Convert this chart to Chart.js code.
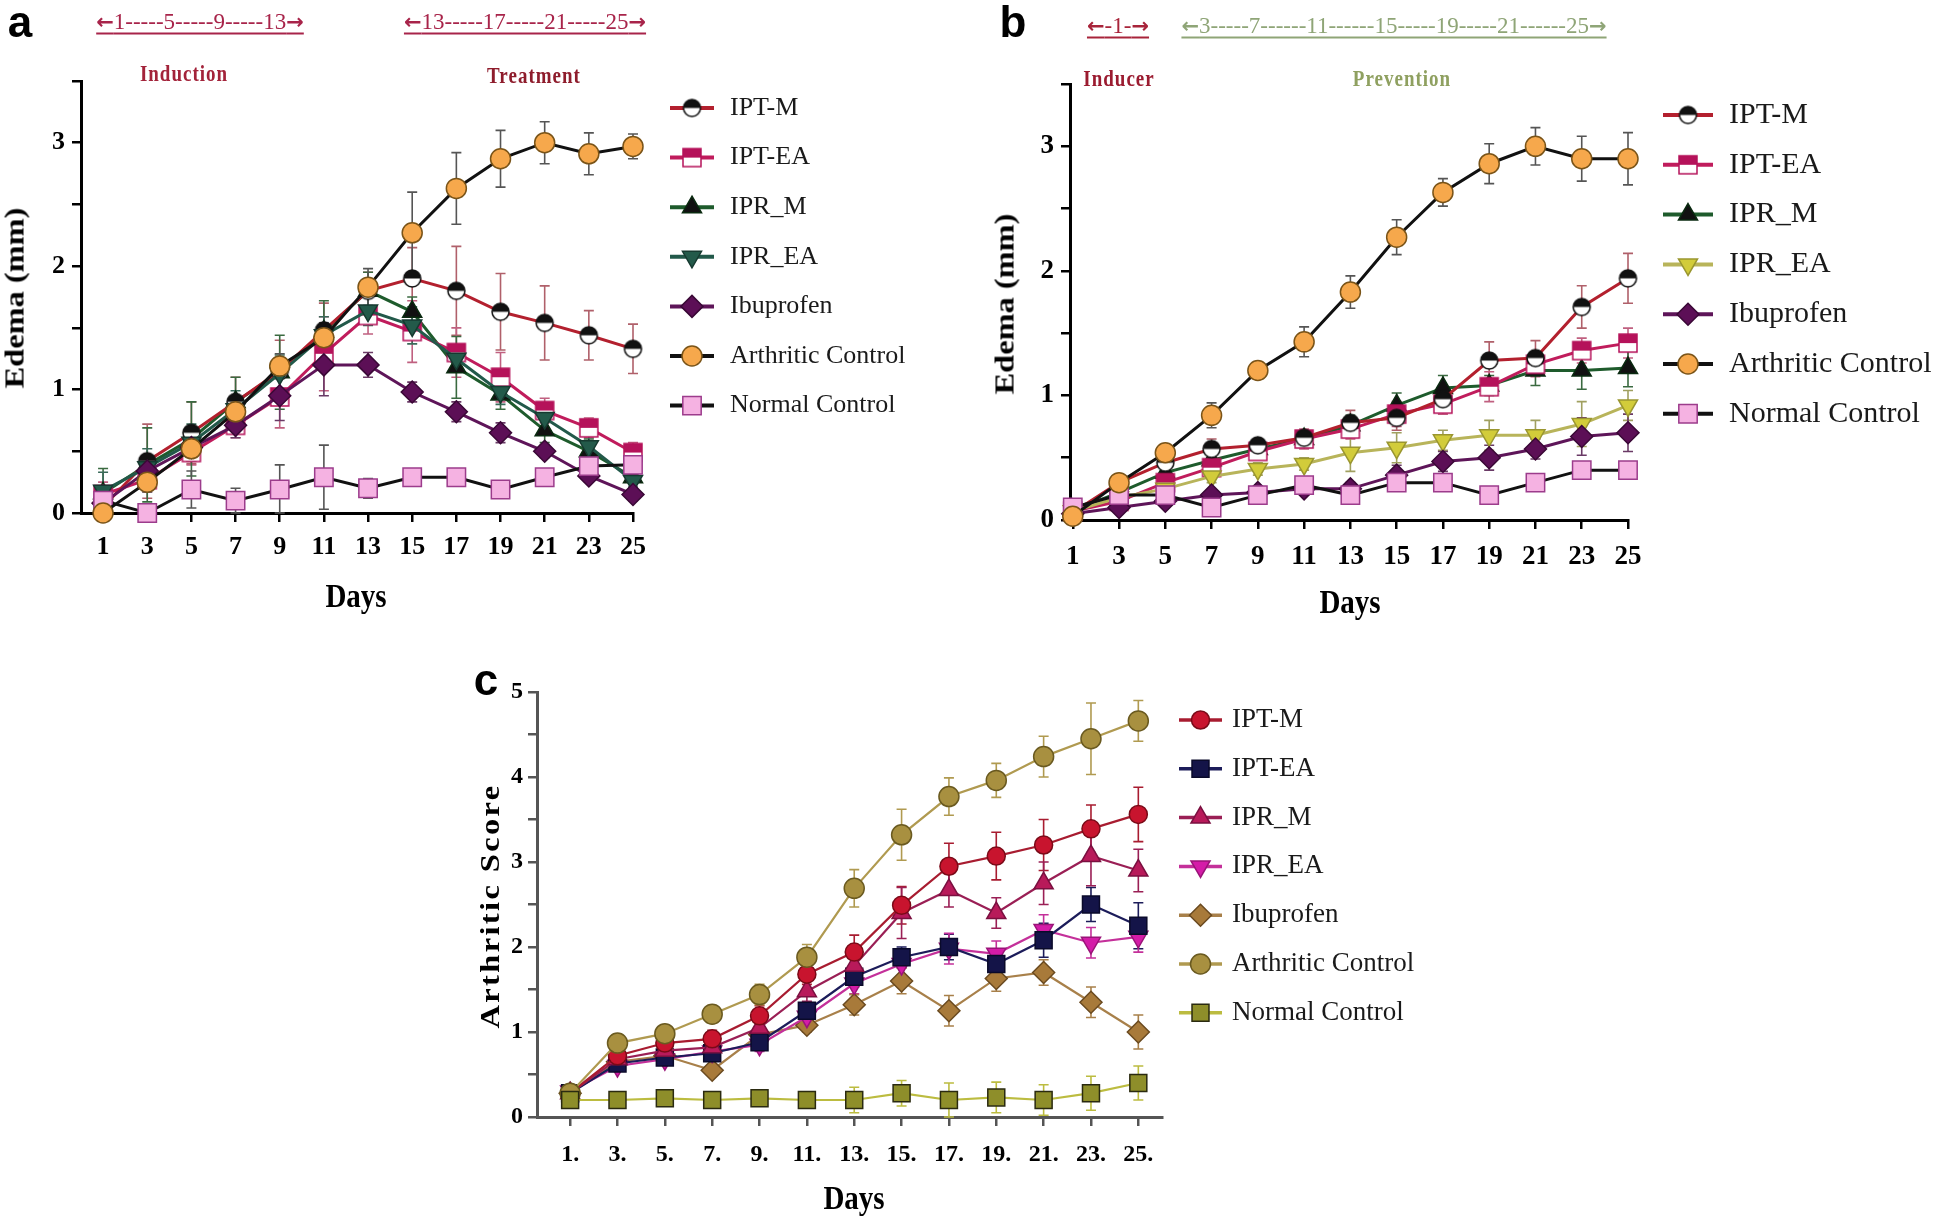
<!DOCTYPE html>
<html>
<head>
<meta charset="utf-8">
<script src="https://cdn.jsdelivr.net/npm/chart.js@4.4.1/dist/chart.umd.min.js"></script>
<style>
  body { margin: 0; background: #fff; width: 1946px; height: 1221px; position: relative; overflow: hidden; font-family: 'Liberation Serif', 'Times New Roman', serif; }
  canvas { position: absolute; }
  .t { position: absolute; white-space: nowrap; line-height: 1; transform: translate(-50%, -50%); }
  .letter { font: bold 44px 'Liberation Sans', Arial, sans-serif; color: #000; }
  .span { font-size: 23px; text-decoration: underline; text-underline-offset: 4px; }
  .ar { font-family: 'DejaVu Sans', sans-serif; font-weight: bold; font-size: 21px; }
  .phase { font-weight: bold; font-size: 19px; letter-spacing: 1px; transform: translate(-50%, -50%) scaleY(1.2); }
  .ytitle { font-weight: bold; font-size: 27px; transform: translate(-50%, -50%) rotate(-90deg) scaleX(1.2); }
  .xtitle { font-weight: bold; font-size: 29px; transform: translate(-50%, -50%) scaleY(1.15); }
</style>
</head>
<body>
<canvas id="ca" width="960" height="640" style="left:0;top:0"></canvas>
<canvas id="cb" width="986" height="640" style="left:960px;top:0"></canvas>
<canvas id="cc" width="1100" height="581" style="left:440px;top:640px"></canvas>

<div class="t letter" style="left:20px;top:22px">a</div>
<div class="t span" style="left:200px;top:21px;color:#a8244a"><span class="ar">←</span>1-----5-----9-----13<span class="ar">→</span></div>
<div class="t span" style="left:525px;top:21px;color:#a8244a"><span class="ar">←</span>13-----17-----21-----25<span class="ar">→</span></div>
<div class="t phase" style="left:184px;top:73px;color:#a3233a">Induction</div>
<div class="t phase" style="left:534px;top:75px;color:#8e1c2c">Treatment</div>
<div class="t ytitle" style="left:15px;top:298px">Edema (mm)</div>
<div class="t xtitle" style="left:356px;top:596px">Days</div>

<div class="t letter" style="left:1013px;top:22px">b</div>
<div class="t span" style="left:1118px;top:25px;color:#a8243a"><span class="ar">←</span>-1-<span class="ar">→</span></div>
<div class="t span" style="left:1394px;top:25px;color:#8fa577"><span class="ar">←</span>3-----7------11------15-----19-----21------25<span class="ar">→</span></div>
<div class="t phase" style="left:1119px;top:78px;color:#9b1b30">Inducer</div>
<div class="t phase" style="left:1402px;top:78px;color:#8fa060">Prevention</div>
<div class="t ytitle" style="left:1005px;top:304px">Edema (mm)</div>
<div class="t xtitle" style="left:1350px;top:602px">Days</div>

<div class="t letter" style="left:486px;top:680px">c</div>
<div class="t ytitle" style="left:490px;top:906px;letter-spacing:2px">Arthritic Score</div>
<div class="t xtitle" style="left:854px;top:1198px">Days</div>

<script>
const days = [1, 3, 5, 7, 9, 11, 13, 15, 17, 19, 21, 23, 25];
const groups = ['IPT-M', 'IPT-EA', 'IPR_M', 'IPR_EA', 'Ibuprofen', 'Arthritic Control', 'Normal Control'];

// panel a: edema, induction then treatment
const aIptM  = [0.05, 0.42, 0.65, 0.90, 1.15, 1.48, 1.80, 1.90, 1.80, 1.63, 1.54, 1.44, 1.33];
const aIptEA = [0.15, 0.27, 0.49, 0.71, 0.94, 1.29, 1.60, 1.47, 1.30, 1.10, 0.83, 0.69, 0.49];
const aIprM  = [0.16, 0.39, 0.60, 0.90, 1.14, 1.47, 1.80, 1.63, 1.18, 0.96, 0.67, 0.50, 0.29];
const aIprEA = [0.18, 0.37, 0.57, 0.84, 1.13, 1.44, 1.64, 1.52, 1.25, 0.98, 0.77, 0.54, 0.26];
const aIbu   = [0.08, 0.34, 0.53, 0.71, 0.95, 1.20, 1.20, 0.98, 0.82, 0.65, 0.50, 0.30, 0.15];
const aArth  = [0.00, 0.25, 0.52, 0.82, 1.19, 1.42, 1.83, 2.27, 2.63, 2.87, 3.00, 2.91, 2.97];
const aNorm  = [0.10, 0.00, 0.19, 0.10, 0.19, 0.29, 0.20, 0.29, 0.29, 0.19, 0.29, 0.38, 0.39];
const aIptMErr  = [0.10, 0.30, 0.25, 0.20, 0.25, 0.22, 0.15, 0.25, 0.36, 0.31, 0.30, 0.20, 0.20];
const aIptEAErr = [0.10, 0.10, 0.10, 0.10, 0.25, 0.30, 0.15, 0.25, 0.20, 0.20, 0.10, 0.08, 0.08];
const aIprMErr  = [0.20, 0.30, 0.30, 0.20, 0.30, 0.25, 0.15, 0.12, 0.25, 0.12, 0.10, 0.10, 0.05];
const aIprEAErr = [0.15, 0.15, 0.15, 0.15, 0.15, 0.15, 0.12, 0.15, 0.10, 0.10, 0.12, 0.10, 0.05];
const aIbuErr   = [0.05, 0.10, 0.10, 0.10, 0.20, 0.25, 0.10, 0.08, 0.08, 0.08, 0.05, 0.05, 0.05];
const aArthErr  = [0.05, 0.08, 0.10, 0.12, 0.10, 0.12, 0.15, 0.33, 0.29, 0.23, 0.17, 0.17, 0.10];
const aNormErr  = [0.05, 0.05, 0.15, 0.10, 0.20, 0.26, 0.08, 0.05, 0.05, 0.05, 0.05, 0.05, 0.05];

// panel b: edema, prevention
const bIptM  = [0.06, 0.30, 0.46, 0.57, 0.60, 0.66, 0.78, 0.82, 0.97, 1.28, 1.30, 1.71, 1.94];
const bIptEA = [0.07, 0.15, 0.30, 0.42, 0.55, 0.65, 0.73, 0.85, 0.93, 1.07, 1.25, 1.36, 1.42];
const bIprM  = [0.08, 0.22, 0.38, 0.48, 0.57, 0.65, 0.76, 0.92, 1.06, 1.08, 1.20, 1.20, 1.22];
const bIprEA = [0.07, 0.18, 0.25, 0.35, 0.41, 0.45, 0.54, 0.58, 0.64, 0.68, 0.68, 0.77, 0.92];
const bIbu   = [0.05, 0.10, 0.15, 0.20, 0.22, 0.25, 0.25, 0.36, 0.47, 0.50, 0.57, 0.67, 0.70];
const bArth  = [0.03, 0.30, 0.54, 0.84, 1.20, 1.43, 1.83, 2.27, 2.63, 2.86, 3.00, 2.90, 2.90];
const bNorm  = [0.10, 0.20, 0.20, 0.10, 0.20, 0.28, 0.20, 0.30, 0.30, 0.20, 0.30, 0.40, 0.40];
const bIptMErr  = [0.03, 0.03, 0.05, 0.08, 0.05, 0.05, 0.10, 0.10, 0.10, 0.15, 0.14, 0.17, 0.20];
const bIptEAErr = [0.03, 0.03, 0.05, 0.05, 0.05, 0.08, 0.08, 0.10, 0.08, 0.12, 0.10, 0.10, 0.12];
const bIprMErr  = [0.03, 0.03, 0.05, 0.05, 0.05, 0.05, 0.08, 0.10, 0.10, 0.08, 0.12, 0.15, 0.15];
const bIprEAErr = [0.03, 0.03, 0.05, 0.05, 0.05, 0.05, 0.15, 0.12, 0.08, 0.12, 0.12, 0.18, 0.12];
const bIbuErr   = [0.02, 0.03, 0.03, 0.03, 0.05, 0.05, 0.05, 0.08, 0.08, 0.10, 0.08, 0.15, 0.15];
const bArthErr  = [0.03, 0.03, 0.05, 0.10, 0.05, 0.12, 0.13, 0.14, 0.11, 0.16, 0.15, 0.18, 0.21];
const bNormErr  = [0.02, 0.03, 0.03, 0.03, 0.03, 0.05, 0.05, 0.05, 0.05, 0.05, 0.05, 0.05, 0.05];

// panel c: arthritic score
const cIptM  = [0.28, 0.72, 0.87, 0.92, 1.19, 1.68, 1.94, 2.49, 2.95, 3.07, 3.20, 3.39, 3.56];
const cIptEA = [0.28, 0.63, 0.70, 0.75, 0.88, 1.25, 1.65, 1.88, 2.00, 1.80, 2.08, 2.50, 2.25];
const cIprM  = [0.28, 0.68, 0.78, 0.82, 1.05, 1.48, 1.78, 2.40, 2.67, 2.40, 2.75, 3.07, 2.90];
const cIprEA = [0.30, 0.60, 0.68, 0.77, 0.85, 1.18, 1.57, 1.80, 1.98, 1.92, 2.20, 2.05, 2.12];
const cIbu   = [0.28, 0.65, 0.72, 0.55, 0.97, 1.08, 1.32, 1.60, 1.25, 1.63, 1.70, 1.35, 1.00];
const cArth  = [0.28, 0.87, 0.98, 1.21, 1.44, 1.88, 2.69, 3.32, 3.77, 3.96, 4.24, 4.45, 4.66];
const cNorm  = [0.20, 0.20, 0.22, 0.20, 0.22, 0.20, 0.20, 0.28, 0.20, 0.23, 0.20, 0.28, 0.40];
const cIptMErr  = [0.05, 0.08, 0.08, 0.10, 0.12, 0.12, 0.20, 0.22, 0.27, 0.28, 0.30, 0.28, 0.32];
const cIptEAErr = [0.05, 0.06, 0.06, 0.08, 0.08, 0.10, 0.12, 0.12, 0.15, 0.15, 0.20, 0.20, 0.27];
const cIprMErr  = [0.05, 0.06, 0.08, 0.08, 0.10, 0.12, 0.15, 0.30, 0.20, 0.18, 0.25, 0.35, 0.25];
const cIprEAErr = [0.05, 0.06, 0.06, 0.08, 0.08, 0.10, 0.12, 0.15, 0.18, 0.15, 0.18, 0.18, 0.18];
const cIbuErr   = [0.05, 0.05, 0.06, 0.06, 0.08, 0.08, 0.12, 0.15, 0.18, 0.15, 0.15, 0.18, 0.20];
const cArthErr  = [0.05, 0.06, 0.06, 0.10, 0.12, 0.15, 0.22, 0.30, 0.22, 0.20, 0.24, 0.42, 0.24];
const cNormErr  = [0.05, 0.05, 0.05, 0.05, 0.05, 0.05, 0.15, 0.15, 0.20, 0.18, 0.18, 0.20, 0.20];

// half filled markers (top colour / bottom colour)
function halfMarker(shape, r, top, bottom, stroke) {
  const s = Math.ceil(r * 2 + 4);
  const c = document.createElement('canvas');
  c.width = s; c.height = s;
  const g = c.getContext('2d');
  const m = s / 2;
  const path = () => {
    g.beginPath();
    if (shape === 'circle') g.arc(m, m, r, 0, Math.PI * 2);
    else g.rect(m - r, m - r, 2 * r, 2 * r);
  };
  g.save(); path(); g.clip();
  g.fillStyle = bottom; g.fillRect(0, 0, s, s);
  g.fillStyle = top; g.fillRect(0, 0, s, m);
  g.restore();
  path(); g.lineWidth = 1.5; g.strokeStyle = stroke; g.stroke();
  return c;
}

const errorBars = {
  id: 'errorBars',
  beforeDatasetsDraw(chart) {
    const ctx = chart.ctx, ys = chart.scales.y;
    chart.data.datasets.forEach((ds, i) => {
      const meta = chart.getDatasetMeta(i);
      ctx.save();
      ctx.strokeStyle = ds.errColor;
      ctx.lineWidth = 1.6;
      meta.data.forEach((pt, j) => {
        const v = ds.data[j].y, e = ds.errors[j];
        const y1 = ys.getPixelForValue(v + e), y2 = ys.getPixelForValue(Math.max(v - e, 0));
        ctx.beginPath();
        ctx.moveTo(pt.x, y1); ctx.lineTo(pt.x, y2);
        ctx.moveTo(pt.x - 5, y1); ctx.lineTo(pt.x + 5, y1);
        ctx.moveTo(pt.x - 5, y2); ctx.lineTo(pt.x + 5, y2);
        ctx.stroke();
      });
      ctx.restore();
    });
  }
};

const sideLegend = {
  id: 'sideLegend',
  afterDraw(chart, args, o) {
    const ctx = chart.ctx;
    chart.data.datasets.forEach((ds, i) => {
      const y = o.top + i * o.gap;
      ctx.save();
      ctx.strokeStyle = ds.borderColor;
      ctx.lineWidth = o.lineWidth;
      ctx.beginPath(); ctx.moveTo(o.left, y); ctx.lineTo(o.left + o.len, y); ctx.stroke();
      ctx.fillStyle = ds.pointBackgroundColor || '#000';
      ctx.strokeStyle = ds.pointBorderColor || '#000';
      ctx.lineWidth = 1.5;
      Chart.helpers.drawPoint(ctx, { pointStyle: ds.pointStyle, rotation: ds.pointRotation || 0, radius: ds.pointRadius, borderWidth: 1.5 }, o.left + o.len / 2, y);
      ctx.fillStyle = '#1a1a1a';
      ctx.font = o.font;
      ctx.textBaseline = 'middle';
      ctx.fillText(ds.label, o.textX, y);
      ctx.restore();
    });
  }
};

function makeSets(series, errs, styles, lw) {
  return series.map((vals, i) => {
    const st = styles[i];
    return {
      label: groups[i],
      data: days.map((d, j) => ({ x: d, y: vals[j] })),
      errors: errs[i],
      errColor: st.err || st.line,
      borderColor: st.line,
      borderWidth: lw,
      pointStyle: st.pt,
      pointRotation: st.rot || 0,
      pointRadius: st.r,
      pointBackgroundColor: st.fill,
      pointBorderColor: st.stroke,
      pointBorderWidth: 1.5,
      order: st.order,
      clip: false,
      tension: 0
    };
  });
}

function panel(id, sets, cfg) {
  const axisGrid = { drawOnChartArea: false, tickLength: 9, color: cfg.axisColor, lineWidth: 2.5 };
  const axisBorder = { color: cfg.axisColor, width: 3 };
  return new Chart(document.getElementById(id), {
    type: 'line',
    data: { datasets: sets },
    options: {
      responsive: false,
      animation: false,
      layout: { padding: cfg.pad },
      plugins: { legend: { display: false }, tooltip: { enabled: false }, sideLegend: cfg.legend },
      scales: {
        x: {
          type: 'linear', min: cfg.xMin, max: cfg.xMax,
          afterBuildTicks: s => { s.ticks = days.map(v => ({ value: v })); },
          afterFit: s => { s.height = cfg.xH; },
          ticks: { autoSkip: false, maxRotation: 0, padding: cfg.xPad, color: '#000', font: cfg.tickFont, callback: cfg.xFmt },
          grid: axisGrid, border: axisBorder
        },
        y: {
          min: 0, max: cfg.yMax,
          afterFit: s => { s.width = cfg.yW; },
          ticks: { stepSize: 0.5, padding: cfg.yPad, color: '#000', font: cfg.tickFont, callback: v => Number.isInteger(v) ? v : '' },
          grid: axisGrid, border: axisBorder
        }
      }
    },
    plugins: [errorBars, sideLegend]
  });
}

const serif = "'Liberation Serif', 'Times New Roman', serif";

const stylesA = [
  { line: '#b3202e', err: '#b0606a', pt: halfMarker('circle', 8.5, '#111', '#fff', '#111'), r: 9, order: 4 },
  { line: '#c01c5c', err: '#c06080', pt: halfMarker('rect', 9, '#b5125a', '#fff', '#b5125a'), r: 10, order: 5 },
  { line: '#1e5b2c', err: '#3a6a40', pt: 'triangle', fill: '#111', stroke: '#0a2a10', r: 11, order: 6 },
  { line: '#22594a', err: '#3a6a5a', pt: 'triangle', rot: 180, fill: '#235a4a', stroke: '#163a30', r: 11, order: 3 },
  { line: '#5e1559', err: '#6a3a66', pt: 'rectRot', fill: '#5c0f56', stroke: '#3a0836', r: 11, order: 2 },
  { line: '#111', err: '#555', pt: 'circle', fill: '#f6a84c', stroke: '#7a5418', r: 10, order: 0 },
  { line: '#111', err: '#555', pt: 'rect', fill: '#f5b2e2', stroke: '#9c3c8c', r: 13, order: 1 }
];
const stylesB = stylesA.slice();
stylesB[3] = { line: '#b8b45a', err: '#a0a060', pt: 'triangle', rot: 180, fill: '#d2cc3a', stroke: '#9a9630', r: 11, order: 3 };
const stylesC = [
  { line: '#a81c30', pt: 'circle', fill: '#c8142e', stroke: '#7a0a18', r: 9, order: 2 },
  { line: '#1c1c5a', pt: 'rect', fill: '#141448', stroke: '#0a0a2a', r: 12, order: 4 },
  { line: '#9a1f55', pt: 'triangle', fill: '#b81a5a', stroke: '#7a1040', r: 11, order: 3 },
  { line: '#c4309a', pt: 'triangle', rot: 180, fill: '#d41ca8', stroke: '#9a1478', r: 11, order: 5 },
  { line: '#a8804a', pt: 'rectRot', fill: '#a87a3a', stroke: '#6a4a20', r: 11, order: 6 },
  { line: '#b09a50', pt: 'circle', fill: '#a89040', stroke: '#6a5a20', r: 10, order: 1 },
  { line: '#bcbc40', pt: 'rect', fill: '#8e8e2a', stroke: '#2a2a10', r: 12, order: 0 }
];

panel('ca',
  makeSets([aIptM, aIptEA, aIprM, aIprEA, aIbu, aArth, aNorm],
           [aIptMErr, aIptEAErr, aIprMErr, aIprEAErr, aIbuErr, aArthErr, aNormErr], stylesA, 3), {
  pad: { left: 0, top: 81, right: 327, bottom: 67 },
  xMin: 0, xMax: 25, yMax: 3.5, xH: 60, yW: 81, xPad: 10, yPad: 7,
  axisColor: '#000', tickFont: { family: serif, size: 26, weight: 'bold' }, xFmt: v => String(v),
  legend: { left: 670, len: 44, textX: 730, top: 108, gap: 49.6, lineWidth: 4, font: "26px " + serif }
});

panel('cb',
  makeSets([bIptM, bIptEA, bIprM, bIprEA, bIbu, bArth, bNorm],
           [bIptMErr, bIptEAErr, bIprMErr, bIprEAErr, bIbuErr, bArthErr, bNormErr], stylesB, 3), {
  pad: { left: 0, top: 84, right: 318, bottom: 60 },
  xMin: 0.88, xMax: 25, yMax: 3.5, xH: 60, yW: 110, xPad: 12, yPad: 7,
  axisColor: '#000', tickFont: { family: serif, size: 27, weight: 'bold' }, xFmt: v => String(v),
  legend: { left: 703, len: 50, textX: 769, top: 115, gap: 49.8, lineWidth: 4, font: "30px " + serif }
});

panel('cc',
  makeSets([cIptM, cIptEA, cIprM, cIprEA, cIbu, cArth, cNorm],
           [cIptMErr, cIptEAErr, cIprMErr, cIprEAErr, cIbuErr, cArthErr, cNormErr], stylesC, 2.2), {
  pad: { left: 0, top: 52, right: 378, bottom: 44 },
  xMin: -0.4, xMax: 26, yMax: 5, xH: 60, yW: 97, xPad: 14, yPad: 5,
  axisColor: '#555', tickFont: { family: serif, size: 24, weight: 'bold' }, xFmt: v => v + '.',
  legend: { left: 739, len: 43, textX: 792, top: 80, gap: 48.8, lineWidth: 3.5, font: "27px " + serif }
});
</script>
</body>
</html>
